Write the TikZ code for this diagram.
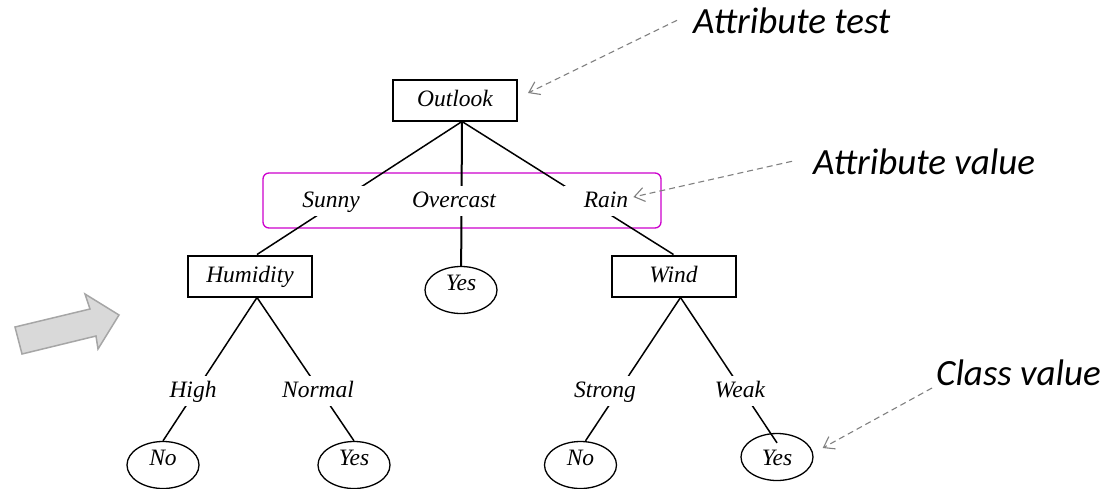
\documentclass[tikz,border=0pt]{standalone}
\usepackage{fontspec}
\setmainfont{Liberation Serif}
\newfontfamily\notefont{Carlito}
\usetikzlibrary{arrows.meta,shapes.geometric}
\definecolor{framemag}{RGB}{204,0,204}
\definecolor{notegray}{RGB}{128,128,128}
\definecolor{arrowfill}{RGB}{217,217,217}
\definecolor{arrowedge}{RGB}{166,166,166}
\newcommand\treelabelfont{\itshape\fontsize{23.5}{28}\selectfont}
\begin{document}
\begin{tikzpicture}[x=1pt,y=-1pt,
  testbox/.style={draw, line width=2pt, minimum width=124pt, minimum height=41pt,
    inner sep=0pt, text height=16pt, text depth=4pt, font=\treelabelfont},
  leaf/.style={ellipse, draw, line width=1.3pt, minimum width=72pt, minimum height=47pt,
    inner sep=0pt, text height=5pt, text depth=5pt, font=\treelabelfont},
  branch/.style={fill=white, inner xsep=#1, inner ysep=5pt, text height=16pt,
    text depth=4pt, font=\treelabelfont, anchor=base},
  branch/.default=12pt,
  edge/.style={line width=1.5pt},
  note/.style={inner sep=0pt, font=\notefont\itshape\fontsize{37}{44}\selectfont, anchor=base west},
  pointer/.style={draw=notegray, line width=1.1pt, dash pattern=on 6pt off 4pt,
    -{Straight Barb[length=10pt,width=14pt]}}
]
\useasboundingbox (0,0) rectangle (1108,488);

% block arrow on the left
\filldraw[fill=arrowfill, draw=arrowedge, line width=1.5pt, line join=miter]
  (15,327) -- (90,309) -- (85,294) -- (119,315) -- (98,349) -- (96,336) -- (22,354) -- cycle;

% frame round the values of the root test
\node[draw=framemag, line width=1.3pt, rounded corners=6pt, minimum width=398pt,
  minimum height=55pt, inner sep=0pt] (valframe) at (462,200.5) {};

% test nodes
\node[testbox] (outlook)  at (455,100)   {Outlook};
\node[testbox] (humidity) at (250,276)   {Humidity};
\node[testbox] (wind)     at (673.5,276) {Wind};

% leaves
\node[leaf] (yes0) at (461,290)   {Yes};
\node[leaf] (no1)  at (163,465)   {No};
\node[leaf] (yes1) at (354,465)   {Yes};
\node[leaf] (no2)  at (580.5,465) {No};
\node[leaf, text height=16pt, text depth=0pt] (yes2) at (777,457) {Yes};

% branches
\draw[edge] ([xshift=7pt]outlook.south) -- ([xshift=7pt]humidity.north);
\draw[edge, line width=2pt] ([xshift=7pt]outlook.south) -- (yes0);
\draw[edge] ([xshift=7pt]outlook.south) -- (wind.north);
\draw[edge] ([xshift=7pt]humidity.south) -- (no1.north);
\draw[edge] ([xshift=7pt]humidity.south) -- (yes1.north);
\draw[edge] ([xshift=7pt]wind.south) -- ([xshift=5pt]no2.north);
\draw[edge] ([xshift=7pt]wind.south) -- ([yshift=-10pt]yes2.north);

% branch values
\node[branch=20pt] (sunny)    at (331,207) {Sunny};
\node[branch=20pt] (overcast) at (454,207) {Overcast};
\node[branch=20pt] (rain)     at (606,207) {Rain};
\node[branch] (high)   at (193,397) {High};
\node[branch] (normal) at (318,397) {Normal};
\node[branch] (strong) at (605,397) {Strong};
\node[branch] (weak)   at (740,397) {Weak};

% notes
\node[note] (ntest)  at (693,33)  {Attribute test};
\node[note] (nvalue) at (813,174) {Attribute value};
\node[note] (nclass) at (936,385) {Class value};

\draw[pointer] ([xshift=-16pt]ntest.west) -- ([xshift=10pt,yshift=7pt]outlook.east);
\draw[pointer] ([xshift=-21pt]nvalue.west) -- ([xshift=-15pt,yshift=10pt]rain.base east);
\draw[pointer] ([xshift=-4pt,yshift=-3pt]nclass.base west) -- ([xshift=9pt,yshift=9pt]yes2.east);
\end{tikzpicture}
\end{document}
